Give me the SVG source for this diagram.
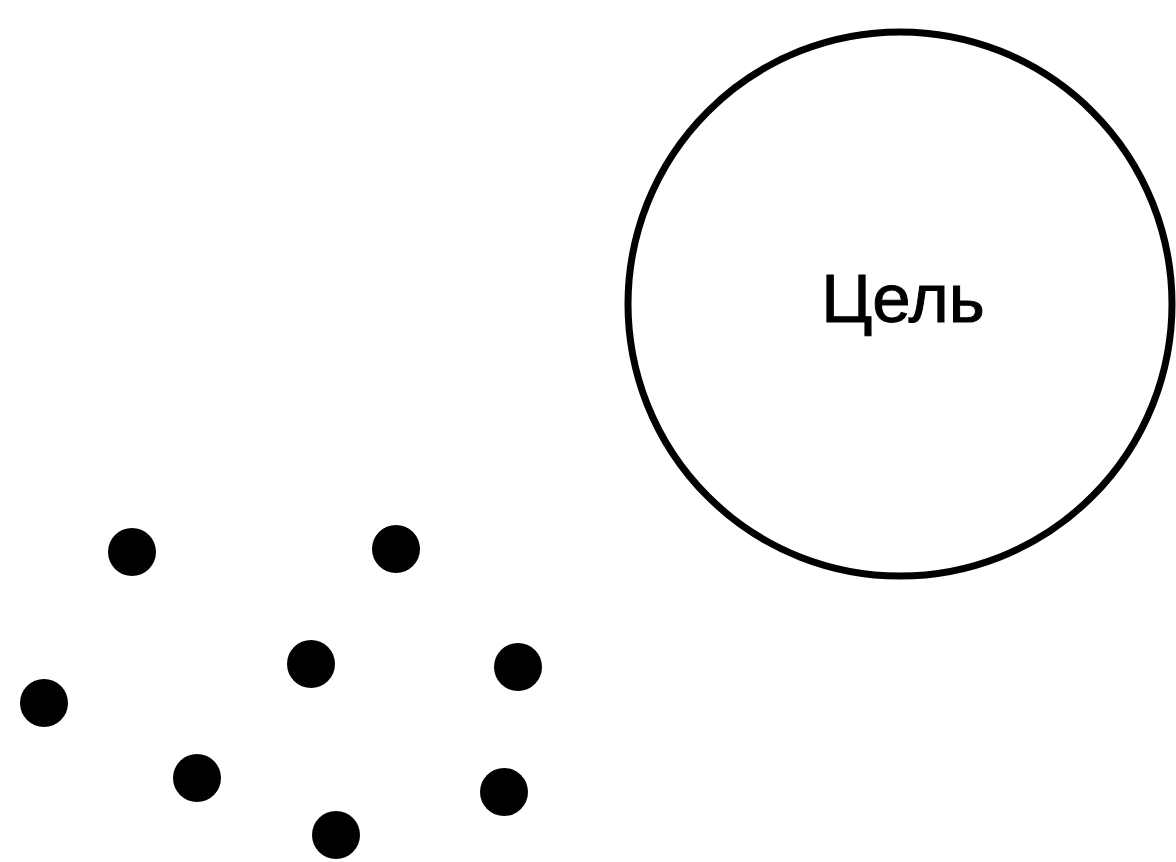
<svg xmlns="http://www.w3.org/2000/svg" width="1176" height="862" viewBox="0 0 1176 862">
<style>
.goal{fill:none;stroke:#000;stroke-width:7}
.dot{fill:#000}
.lbl{font-family:"Liberation Sans",Arial,sans-serif;font-size:69px;fill:#000;stroke:#000;stroke-width:1;text-anchor:middle}
</style>
<rect width="1176" height="862" fill="#fff"/>
<g id="goal">
<circle class="goal" cx="900" cy="304" r="272"/>
<text class="lbl" x="903" y="322">Цель</text>
</g>
<g id="dots">
<circle id="d1" class="dot" cx="132" cy="552" r="24"/>
<circle id="d2" class="dot" cx="396" cy="549" r="24"/>
<circle id="d3" class="dot" cx="311" cy="664" r="24"/>
<circle id="d4" class="dot" cx="518" cy="667" r="24"/>
<circle id="d5" class="dot" cx="44" cy="703" r="24"/>
<circle id="d6" class="dot" cx="197" cy="778" r="24"/>
<circle id="d7" class="dot" cx="504" cy="792" r="24"/>
<circle id="d8" class="dot" cx="336" cy="835" r="24"/>
</g>
<g id="connectors"></g>
</svg>
